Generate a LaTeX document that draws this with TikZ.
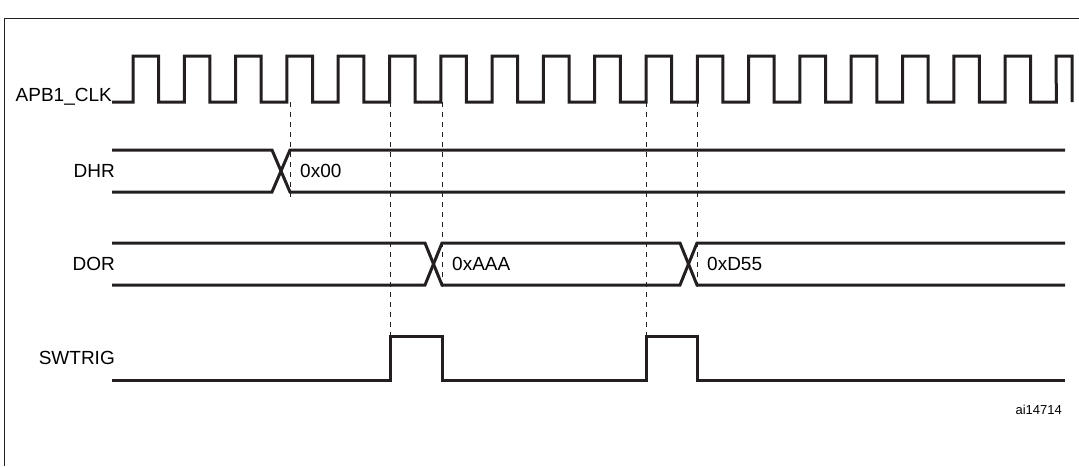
\documentclass[tikz,border=0pt]{standalone}
\usepackage{fontspec}
\setmainfont{Liberation Sans}
\usetikzlibrary{positioning,calc}
\definecolor{wave}{RGB}{35,31,32}

\begin{document}
\begin{tikzpicture}[x=1pt, y=-1pt,
    sig/.style={line width=3pt, wave, line join=miter},
    guide/.style={line width=0.8pt, wave, dash pattern=on 5pt off 5pt},
    signame/.style={anchor=east, font=\fontsize{19}{21}\selectfont, inner sep=0pt},
    val/.style={anchor=west, font=\fontsize{19}{21}\selectfont, inner sep=0pt}
  ]
    \useasboundingbox (0,0) rectangle (1079,466);
    \draw[line width=1pt, wave] (4,466) -- (4,18) -- (1085,18);

    % clock
    \def\per{51.3}
    \draw[sig] (112,102) -- (133,102)
      \foreach \k in {0,...,17} {
        -- ({133+\k*\per},56) -- ({158.6+\k*\per},56)
        -- ({158.6+\k*\per},102) -- ({133+(\k+1)*\per},102)
      } -- (1056,56) -- (1072,56) -- (1072,102);
    \node[signame] (clk) at (112,97) {APB1\_CLK};

    % DHR
    \draw[sig] (112,150) -- (272,150) -- (290,192) -- (1065,192);
    \draw[sig] (112,192) -- (272,192) -- (290,150) -- (1065,150);
    \node[signame] (dhr) at (115,171) {DHR};
    \node[val] (v0) at (300,171) {0x00};

    % DOR
    \draw[sig] (112,243) -- (425,243) -- (442,285) -- (680,285) -- (697,243) -- (1065,243);
    \draw[sig] (112,285) -- (425,285) -- (442,243) -- (680,243) -- (697,285) -- (1065,285);
    \node[signame] (dor) at (115,264) {DOR};
    \node[val] (v1) at (452,264) {0xAAA};
    \node[val] (v2) at (707,264) {0xD55};

    % SWTRIG
    \draw[sig] (112,380) -- (390,380) -- (390,336) -- (442,336) -- (442,380)
      -- (646,380) -- (646,336) -- (697,336) -- (697,380) -- (1065,380);
    \node[signame] (sw) at (115,358) {SWTRIG};

    % guides
    \draw[guide] (290,102) -- (290,200);
    \foreach \gx in {390,646} \draw[guide] (\gx,102) -- (\gx,336);
    \foreach \gx in {442,697} \draw[guide] (\gx,102) -- (\gx,290);

    \node[anchor=east, font=\fontsize{13}{15}\selectfont, inner sep=0pt] (ref) at (1062,410) {ai14714};
\end{tikzpicture}
\end{document}
